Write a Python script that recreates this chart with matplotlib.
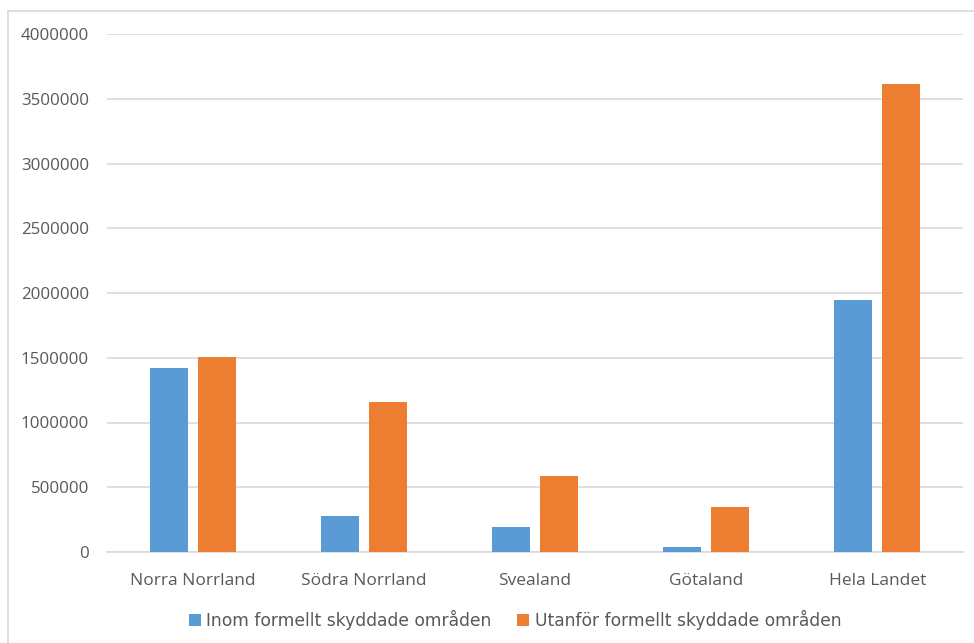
import matplotlib
matplotlib.use("Agg")
import matplotlib.pyplot as plt
import numpy as np
from matplotlib.lines import Line2D

categories = ["Norra Norrland", "Södra Norrland", "Svealand", "Götaland", "Hela Landet"]
inom = [1420000, 280000, 192000, 40000, 1945000]
utanfor = [1507000, 1160000, 588000, 351000, 3617000]
series_names = ["Inom formellt skyddade områden", "Utanför formellt skyddade områden"]
yticks = [0, 500000, 1000000, 1500000, 2000000, 2500000, 3000000, 3500000, 4000000]

blue = "#5B9BD5"
orange = "#ED7D31"
text_color = "#595959"
grid_color = "#D9D9D9"

plt.rcParams['font.family'] = ['Open Sans', 'DejaVu Sans']

W, H = 974, 643
fig = plt.figure(figsize=(W / 100, H / 100), dpi=100)

# chart border (left and top visible)
fig.add_artist(Line2D([8 / W, 8 / W], [0, 1 - 11 / H], color=grid_color, lw=1.2))
fig.add_artist(Line2D([8 / W, 1], [1 - 11 / H, 1 - 11 / H], color=grid_color, lw=1.2))

left, right, top, bottom = 107, 963, 34, 552
ax = fig.add_axes([left / W, 1 - bottom / H, (right - left) / W, (bottom - top) / H])

x = np.arange(len(categories))
bw = 0.222
off = 0.14
ax.bar(x - off, inom, bw, color=blue, label=series_names[0], zorder=3)
ax.bar(x + off, utanfor, bw, color=orange, label=series_names[1], zorder=3)

ax.set_xlim(-0.5, len(categories) - 0.5)
ax.set_ylim(0, 4000000)
ax.set_yticks(yticks)
ax.set_yticklabels([str(v) for v in yticks], fontsize=12.2)
ax.yaxis.grid(True, color=grid_color, lw=1.2, zorder=0)
ax.set_axisbelow(True)
for s in ["top", "right", "left"]:
    ax.spines[s].set_visible(False)
ax.spines["bottom"].set_color(grid_color)
ax.spines["bottom"].set_linewidth(1.2)
ax.tick_params(axis='both', length=0, colors=text_color)
ax.tick_params(axis='y', pad=13)
ax.tick_params(axis='x', pad=15)
ax.set_xticks(x)
ax.set_xticklabels(categories, fontsize=12.5)

leg = fig.legend(loc="center", bbox_to_anchor=(0.529, 1 - 620 / H), ncol=2, frameon=False,
                 prop={'family': ['DejaVu Sans'], 'size': 12.3},
                 handlelength=0.7, handleheight=0.7, handletextpad=0.3,
                 columnspacing=1.5, labelcolor=text_color)

fig.savefig("out.png", dpi=100)
